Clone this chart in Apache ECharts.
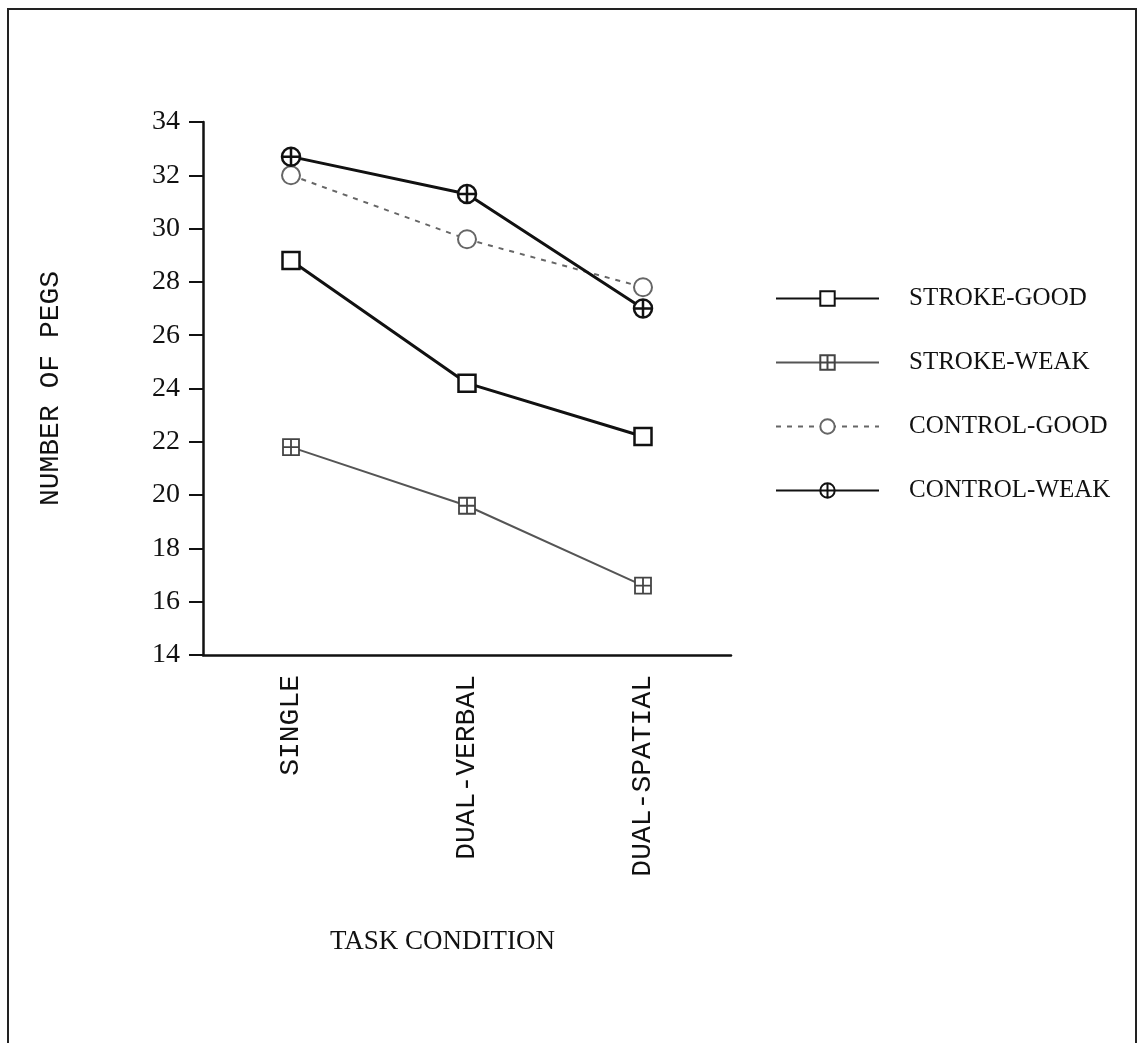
<!DOCTYPE html>
<html>
<head>
<meta charset="utf-8">
<script src="https://cdn.jsdelivr.net/npm/echarts@6/dist/echarts.min.js"></script>
<style>
html, body { margin: 0; padding: 0; background: #fff; }
#chart { width: 1138px; height: 1043px; }
</style>
</head>
<body>
<div id="chart"></div>
<script>
// 数据
var categories = ["SINGLE", "DUAL-VERBAL", "DUAL-SPATIAL"];
var strokeGood = [28.8, 24.2, 22.2];
var strokeWeak = [21.8, 19.6, 16.6];
var controlGood = [32.0, 29.6, 27.8];
var controlWeak = [32.7, 31.3, 27.0];
var yTicks = { min: 14, max: 34, step: 2 };

var serif = "Liberation Serif";
var mono = "Liberation Mono";

var squareCross = "path://M0,0L10,0L10,10L0,10Z M5,0L5,10 M0,5L10,5";
var circleCross = "path://M5,0A5,5 0 1 1 5,10A5,5 0 1 1 5,0Z M5,0L5,10 M0,5L10,5";

var chart = echarts.init(document.getElementById("chart"));

var option = {
  backgroundColor: "#fff",
  animation: false,
  graphic: [
    {
      type: "rect",
      shape: { x: 8, y: 9, width: 1128, height: 1060 },
      style: { fill: "none", stroke: "#222", lineWidth: 2 }
    },
    {
      type: "text",
      left: 330,
      top: 928,
      style: { text: "TASK CONDITION", font: "27px " + serif, fill: "#111" }
    }
  ],
  grid: { left: 203, right: 407, top: 122, bottom: 388 },
  legend: {
    left: 770,
    top: 281,
    orient: "vertical",
    itemWidth: 103,
    itemHeight: 18,
    itemGap: 39,
    textStyle: { fontFamily: serif, fontSize: 25, color: "#111", padding: [0, 0, 0, 25] },
    data: ["STROKE-GOOD", "STROKE-WEAK", "CONTROL-GOOD", "CONTROL-WEAK"]
  },
  xAxis: {
    type: "category",
    data: categories,
    boundaryGap: true,
    axisLine: { lineStyle: { color: "#111", width: 2.5 } },
    axisTick: { alignWithLabel: true, length: 10, lineStyle: { color: "#111", width: 2 } },
    axisLabel: { rotate: 90, margin: 20, fontFamily: mono, fontSize: 28, color: "#111" }
  },
  yAxis: {
    type: "value",
    min: yTicks.min,
    max: yTicks.max,
    interval: yTicks.step,
    name: "NUMBER OF PEGS",
    nameLocation: "middle",
    nameGap: 138,
    nameTextStyle: { fontFamily: mono, fontSize: 28, color: "#111" },
    splitLine: { show: false },
    axisLine: { show: true, lineStyle: { color: "#111", width: 2.5 } },
    axisTick: { show: true, length: 14, lineStyle: { color: "#111", width: 2 } },
    axisLabel: { margin: 23, fontFamily: serif, fontSize: 28, color: "#111" }
  },
  series: [
    {
      name: "STROKE-GOOD",
      type: "line",
      data: strokeGood,
      symbol: "rect",
      symbolSize: 17,
      lineStyle: { color: "#111", width: 3 },
      itemStyle: { color: "#fff", borderColor: "#111", borderWidth: 2.5 }
    },
    {
      name: "STROKE-WEAK",
      type: "line",
      data: strokeWeak,
      symbol: squareCross,
      symbolSize: 16,
      lineStyle: { color: "#555", width: 2 },
      itemStyle: { color: "#fff", borderColor: "#444", borderWidth: 1.8 }
    },
    {
      name: "CONTROL-GOOD",
      type: "line",
      data: controlGood,
      symbol: "circle",
      symbolSize: 18,
      lineStyle: { color: "#666", width: 2, type: [5, 6] },
      itemStyle: { color: "#fff", borderColor: "#666", borderWidth: 2 }
    },
    {
      name: "CONTROL-WEAK",
      type: "line",
      data: controlWeak,
      symbol: circleCross,
      symbolSize: 18,
      lineStyle: { color: "#111", width: 3 },
      itemStyle: { color: "#fff", borderColor: "#111", borderWidth: 2.5 }
    }
  ]
};

chart.setOption(option);
window.addEventListener("resize", function () { chart.resize(); });
</script>
</body>
</html>
